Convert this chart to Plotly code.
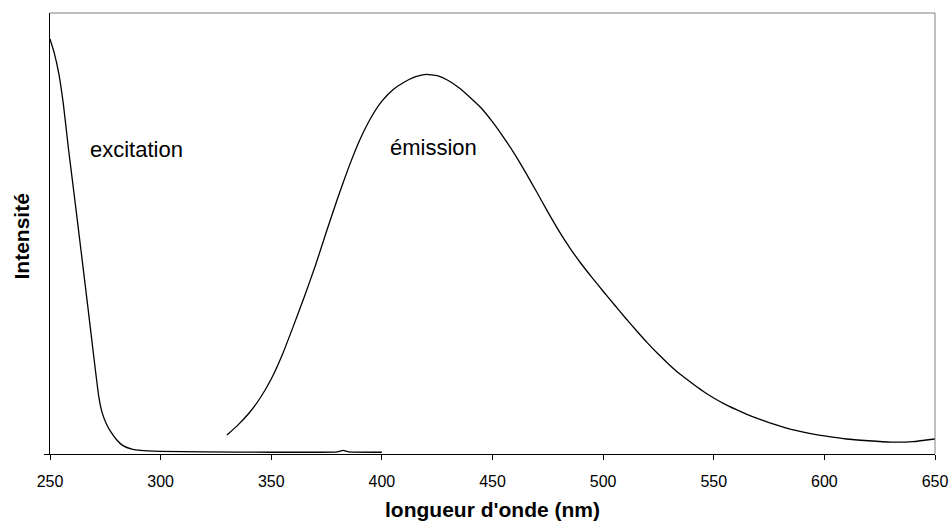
import plotly.graph_objects as go

# Excitation spectrum (wavelength nm, relative intensity)
exc_wl = [250, 252, 254, 256, 258.4, 261, 264, 267, 270, 272, 273.5,
          275.5, 277.5, 280, 283, 287, 291, 300, 320, 350, 370, 380, 382.5, 385, 400]
exc_int = [0.941, 0.908, 0.862, 0.795, 0.690, 0.585, 0.462, 0.338, 0.212, 0.132, 0.095,
           0.068, 0.050, 0.033, 0.019, 0.011, 0.008, 0.006, 0.005, 0.004, 0.004, 0.005, 0.008, 0.005, 0.004]

# Emission spectrum
em_wl = [330, 335, 340, 345, 350, 355, 360, 365, 370, 375, 380, 385, 390, 395, 400,
         405, 410, 415, 420, 425, 430, 435, 440, 445, 450, 455, 460, 465, 470,
         475, 480, 485, 490, 495, 500, 505, 510, 515, 520, 525, 530, 535, 540,
         545, 550, 555, 560, 565, 570, 575, 580, 585, 590, 595, 600, 610, 620,
         630, 640, 650]
em_int = [0.043, 0.066, 0.093, 0.127, 0.170, 0.225, 0.290, 0.357, 0.428, 0.505, 0.580, 0.650, 0.712, 0.762, 0.800,
          0.826, 0.843, 0.855, 0.861, 0.858, 0.847, 0.830, 0.808, 0.784, 0.753, 0.718, 0.680, 0.638, 0.594,
          0.549, 0.506, 0.467, 0.432, 0.400, 0.369, 0.339, 0.309, 0.280, 0.252, 0.226, 0.202, 0.180, 0.161,
          0.143, 0.127, 0.113, 0.101, 0.090, 0.080, 0.071, 0.063, 0.056, 0.050, 0.045, 0.041, 0.034, 0.030,
          0.027, 0.028, 0.034]

x_ticks = [250, 300, 350, 400, 450, 500, 550, 600, 650]

labels = ["excitation", "émission"]
label_x = [289.2, 423.3]
label_y = [0.690, 0.694]

x_title = "longueur d'onde (nm)"
y_title = "Intensité"

FONT = "Liberation Sans, Arial, sans-serif"

fig = go.Figure()
fig.add_trace(go.Scatter(x=exc_wl, y=exc_int, mode="lines",
                         line=dict(color="black", width=1.3, shape="spline", smoothing=0.4),
                         showlegend=False, hoverinfo="skip"))
fig.add_trace(go.Scatter(x=em_wl, y=em_int, mode="lines",
                         line=dict(color="black", width=1.3, shape="spline", smoothing=0.4),
                         showlegend=False, hoverinfo="skip"))

for t, xx, yy in zip(labels, label_x, label_y):
    fig.add_annotation(x=xx, y=yy, text=t, showarrow=False,
                       font=dict(family=FONT, size=22, color="black"),
                       xanchor="center", yanchor="middle")

# axis titles
fig.add_annotation(x=0.5, y=-0.125, xref="paper", yref="paper", text="<b>" + x_title + "</b>",
                   showarrow=False, xanchor="center", yanchor="middle",
                   font=dict(family=FONT, size=21, color="black"))
fig.add_annotation(x=-0.0324, y=0.494, xref="paper", yref="paper", text="<b>" + y_title + "</b>",
                   showarrow=False, xanchor="center", yanchor="middle", textangle=-90,
                   font=dict(family=FONT, size=21, color="black"))

# gray top and right frame of the plot area
fig.add_shape(type="line", xref="paper", yref="paper", x0=0, x1=1, y0=1, y1=1,
              line=dict(color="#808080", width=1))
fig.add_shape(type="line", xref="paper", yref="paper", x0=1, x1=1, y0=0, y1=1,
              line=dict(color="#808080", width=1))

fig.update_layout(
    width=949, height=522,
    margin=dict(l=50, r=14, t=13, b=68),
    paper_bgcolor="white", plot_bgcolor="white",
    font=dict(family=FONT, color="black"),
    xaxis=dict(range=[250, 650], tickvals=x_ticks, ticktext=[str(v) for v in x_ticks],
               automargin=False, ticklabelstandoff=8,
               showgrid=False, zeroline=False, showline=True, linecolor="black", linewidth=1,
               ticks="outside", ticklen=5, tickcolor="black", tickwidth=1,
               tickfont=dict(family=FONT, size=16, color="black")),
    yaxis=dict(range=[0, 1], tickvals=[0], showticklabels=False, automargin=False,
               showgrid=False, zeroline=False, showline=True, linecolor="black", linewidth=1,
               ticks="outside", ticklen=5, tickcolor="black", tickwidth=1),
)

fig.write_html("out.html", config={"displayModeBar": False},
               post_script="document.body.style.margin='0';document.body.style.overflow='hidden';")
